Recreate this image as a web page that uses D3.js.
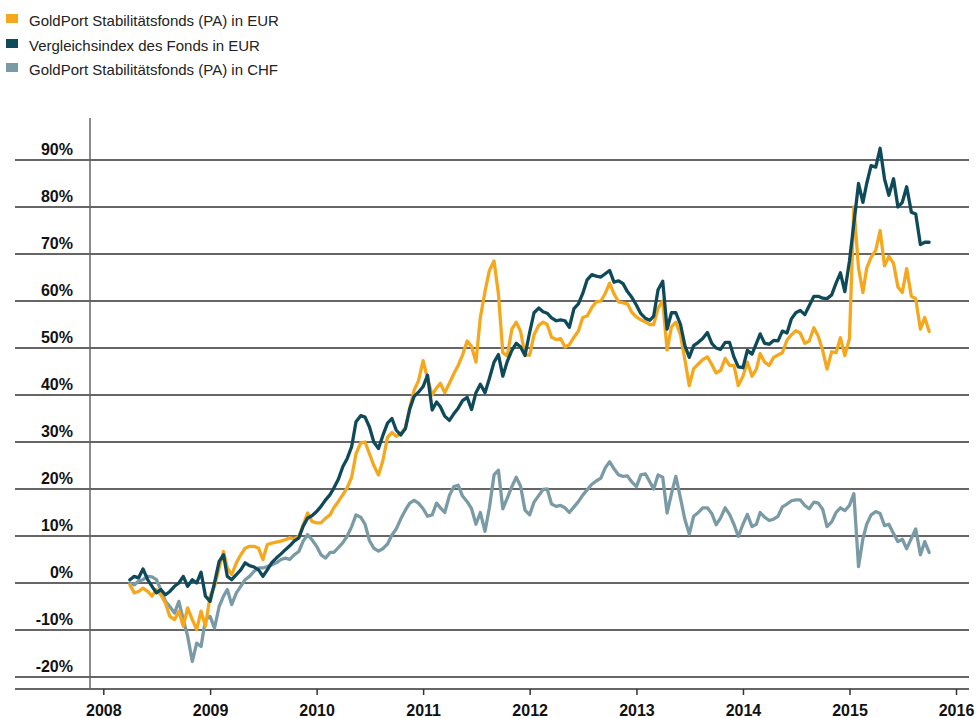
<!DOCTYPE html>
<html>
<head>
<meta charset="utf-8">
<script src="https://cdn.jsdelivr.net/npm/d3@7"></script>
<style>
  body { margin: 0; background: #fff; }
  svg { display: block; font-family: "Liberation Sans", Arial, sans-serif; }
</style>
</head>
<body>
<div id="chart"></div>
<script>
// Semi-monthly observation dates
var dates = [
  "2008-04-01","2008-04-16","2008-05-01","2008-05-16","2008-06-01","2008-06-16","2008-07-01","2008-07-16","2008-08-01","2008-08-16","2008-09-01","2008-09-16",
  "2008-10-01","2008-10-16","2008-11-01","2008-11-16","2008-12-01","2008-12-16",
  "2009-01-01","2009-01-16","2009-02-01","2009-02-16","2009-03-01","2009-03-16","2009-04-01","2009-04-16","2009-05-01","2009-05-16","2009-06-01","2009-06-16",
  "2009-07-01","2009-07-16","2009-08-01","2009-08-16","2009-09-01","2009-09-16","2009-10-01","2009-10-16","2009-11-01","2009-11-16","2009-12-01","2009-12-16",
  "2010-01-01","2010-01-16","2010-02-01","2010-02-16","2010-03-01","2010-03-16","2010-04-01","2010-04-16","2010-05-01","2010-05-16","2010-06-01","2010-06-16",
  "2010-07-01","2010-07-16","2010-08-01","2010-08-16","2010-09-01","2010-09-16","2010-10-01","2010-10-16","2010-11-01","2010-11-16","2010-12-01","2010-12-16",
  "2011-01-01","2011-01-16","2011-02-01","2011-02-16","2011-03-01","2011-03-16","2011-04-01","2011-04-16","2011-05-01","2011-05-16","2011-06-01","2011-06-16",
  "2011-07-01","2011-07-16","2011-08-01","2011-08-16","2011-09-01","2011-09-16","2011-10-01","2011-10-16","2011-11-01","2011-11-16","2011-12-01","2011-12-16",
  "2012-01-01","2012-01-16","2012-02-01","2012-02-16","2012-03-01","2012-03-16","2012-04-01","2012-04-16","2012-05-01","2012-05-16","2012-06-01","2012-06-16",
  "2012-07-01","2012-07-16","2012-08-01","2012-08-16","2012-09-01","2012-09-16","2012-10-01","2012-10-16","2012-11-01","2012-11-16","2012-12-01","2012-12-16",
  "2013-01-01","2013-01-16","2013-02-01","2013-02-16","2013-03-01","2013-03-16","2013-04-01","2013-04-16","2013-05-01","2013-05-16","2013-06-01","2013-06-16",
  "2013-07-01","2013-07-16","2013-08-01","2013-08-16","2013-09-01","2013-09-16","2013-10-01","2013-10-16","2013-11-01","2013-11-16","2013-12-01","2013-12-16",
  "2014-01-01","2014-01-16","2014-02-01","2014-02-16","2014-03-01","2014-03-16","2014-04-01","2014-04-16","2014-05-01","2014-05-16","2014-06-01","2014-06-16",
  "2014-07-01","2014-07-16","2014-08-01","2014-08-16","2014-09-01","2014-09-16","2014-10-01","2014-10-16","2014-11-01","2014-11-16","2014-12-01","2014-12-16",
  "2015-01-01","2015-01-16","2015-02-01","2015-02-16","2015-03-01","2015-03-16","2015-04-01","2015-04-16","2015-05-01","2015-05-16","2015-06-01","2015-06-16",
  "2015-07-01","2015-07-16","2015-08-01","2015-08-16","2015-09-01","2015-09-16","2015-10-01"
];

// GoldPort Stabilitätsfonds (PA) in EUR, % since start
var fondsEur = [
  -0.4,-2.1,-1.8,-1.1,-1.8,-2.8,-1.4,-2.5,-4.3,-7.1,-7.8,-6.0,
  -9.2,-5.3,-7.8,-9.9,-6.0,-9.2,-2.8,-0.7,3.2,6.7,3.2,1.8,
  4.3,6.0,7.4,7.8,7.8,7.4,5.0,8.2,8.5,8.7,8.9,9.2,
  9.6,9.4,9.9,12.4,14.9,13.1,12.8,12.8,13.8,14.5,16,17.3,
  18.8,20.3,22.5,27.5,29.8,30,27.5,25,23,26,31,32,
  31.2,31.8,33,37.2,41,43,47.3,43.5,40,41.5,42.5,40.5,
  42.5,44.5,46.3,48.5,51.5,50.3,47,56.5,62,66.5,68.5,61.5,
  49,48.3,54,55.5,53.5,48.5,48.5,52.8,54.8,55.5,55,52.3,
  51.8,52,50.2,50.7,52.3,53.6,56.5,56.8,58.6,59.8,60,61.6,
  63.8,61.5,59.8,59.6,59.4,57.6,56.6,56,55.5,55,55,58.5,
  60,49.6,54.5,55.5,52.8,47.5,42,45.6,46.6,47.5,48.1,46.5,
  44.7,45.2,47.8,46.3,46.3,42,44,47,44,45.5,48.8,47,
  46.3,48,48.5,49,51.7,52.8,53.7,53.2,51,51.5,54.3,52.5,
  49.5,45.5,49.2,49,52.2,48.4,52,80,67,61.8,67,69.3,
  70.8,75,67.5,69.5,68,63,61.8,66.9,61,60.5,54,56.5,53.5
];

// Vergleichsindex des Fonds in EUR
var indexEur = [
  0.7,1.4,1.1,3.0,0.7,-0.7,-2.1,-1.4,-2.5,-1.8,-0.7,0,
  1.4,-0.7,0.7,0,2.3,-2.8,-3.9,0,4.6,6.0,1.4,0.7,
  1.8,2.8,4.3,3.7,3.4,2.8,1.4,2.8,4.4,5.3,6.2,7.1,
  7.9,8.9,9.6,12.1,13.8,14.3,15.2,16.3,17.7,18.8,20.2,22,
  24.8,26.5,29,34.3,35.6,35.3,33.2,30,28.6,31.4,34,35,
  32.5,31.5,32.8,37,39.7,40.6,41.8,44.2,36.8,38.5,37.5,35.5,
  34.6,36,37.2,38.8,39.5,36.9,40.5,42.3,40.5,43.5,47,48.6,
  44,47.1,49.5,51,50.2,48.4,53.3,57.5,58.5,57.7,57.4,56.4,
  55.8,56,55.8,54.4,58.4,59.4,61.6,64.5,65.6,65.3,65.1,65.8,
  66.5,64,64.3,63.7,62,60.8,59.1,57.3,56.3,55.9,56.8,62.4,
  64.2,54,57.5,57.5,55,50.5,48,50.5,51.2,52,53.3,51,
  50,49.7,51.2,51.2,48.1,46,45.8,49.5,48.7,51,53,51,
  50.8,51.6,51.5,53.6,53.2,56.2,57.5,58,57.1,59,61,61,
  60.6,60.5,61.3,63.8,66,62,68.5,76.5,85,81,85,88.8,
  88.5,92.5,86,82.5,86,80,81,84.3,78.9,78.5,72,72.5,72.5
];

// GoldPort Stabilitätsfonds (PA) in CHF
var fondsChf = [
  0,-0.4,0.4,0.7,1.4,1.3,0.7,-1.4,-3.9,-5.0,-6.4,-3.9,
  -7.8,-11.3,-16.7,-12.8,-13.5,-7.8,-7.1,-9.6,-5.0,-2.8,-1.4,-4.6,
  -2.1,-0.7,0.7,1.4,2.5,3.2,3.2,3.5,3.9,4.3,5.0,5.3,
  5.0,6.0,6.7,8.9,10.3,9.2,7.8,6.0,5.3,6.5,6.5,7.5,
  8.6,10,12,14.5,14,12.5,9,7.4,6.8,7.3,8.3,10.2,
  11.5,13.6,15.5,17,17.6,17,15.8,14.2,14.5,17,16,15,
  18.6,20.5,20.8,18.5,17.3,15.8,12.5,15,11,16,23,24,
  15.8,18,20.5,22.5,20.6,15.5,14.5,17.2,18.6,19.9,20,16.8,
  16.3,16.5,16,15,16.2,17.3,18.7,19.8,21,21.7,22.3,24.5,
  25.8,24.3,23,22.7,22.8,21.5,20.5,23,23.2,21.5,20,23,
  22.5,14.9,19,22.7,18,13.5,10.4,14.2,15,16,16,14.8,
  12.4,13.8,16,14.6,12.5,9.9,12.5,14.6,12,12.5,15,14,
  13.3,13.6,14.2,16.2,16.8,17.5,17.7,17.7,16.5,15.8,17.2,17,
  15.7,12,13,15,16,15.4,16.5,19,3.5,9.4,12.5,14.5,
  15.2,14.8,12.2,12.5,10.5,8.8,9.3,7.3,9.5,11.5,6,8.8,6.5
];

var seriesNames = ["GoldPort Stabilitätsfonds (PA) in EUR", "Vergleichsindex des Fonds in EUR", "GoldPort Stabilitätsfonds (PA) in CHF"];
var seriesColors = ["#f5a81d", "#0f4a5b", "#7a9ba6"];
var yTicks = [-20, -10, 0, 10, 20, 30, 40, 50, 60, 70, 80, 90];
var xTicks = [2008, 2009, 2010, 2011, 2012, 2013, 2014, 2015, 2016];

var width = 976, height = 718;
var gridLeft = 15, gridRight = 969, axisY = 689;

var parse = d3.timeParse("%Y-%m-%d");
var x = d3.scaleTime()
  .domain([new Date(2008, 0, 1), new Date(2016, 0, 1)])
  .range([103.3, 956]);
var y = d3.scaleLinear().domain([-20, 90]).range([677, 160]);

var svg = d3.select("#chart").append("svg").attr("width", width).attr("height", height);

// Horizontal grid lines
svg.append("g").selectAll("line").data(yTicks).enter().append("line")
  .attr("x1", gridLeft).attr("x2", gridRight)
  .attr("y1", function(d){ return y(d); }).attr("y2", function(d){ return y(d); })
  .attr("stroke", "#333").attr("stroke-width", 1.5);

// Baseline of the time axis
svg.append("line")
  .attr("x1", gridLeft).attr("x2", gridRight).attr("y1", axisY).attr("y2", axisY)
  .attr("stroke", "#333").attr("stroke-width", 1.5);

// Vertical axis line
svg.append("line")
  .attr("x1", 90).attr("x2", 90).attr("y1", 118).attr("y2", axisY)
  .attr("stroke", "#666").attr("stroke-width", 1.5);

// Y labels sit just above their grid line
svg.append("g").selectAll("text").data(yTicks).enter().append("text")
  .attr("x", 73).attr("y", function(d){ return y(d) - 5; })
  .attr("text-anchor", "end")
  .attr("font-size", 16).attr("font-weight", "bold").attr("fill", "#111")
  .text(function(d){ return d + "%"; });

// Time axis
var xAxis = d3.axisBottom(x)
  .tickValues(xTicks.map(function(yr){ return new Date(yr, 0, 1); }))
  .tickFormat(d3.timeFormat("%Y"))
  .tickSize(6).tickPadding(10);
var gx = svg.append("g").attr("transform", "translate(0," + axisY + ")").call(xAxis);
gx.select(".domain").remove();
gx.selectAll(".tick line").attr("stroke", "#333").attr("stroke-width", 1.5);
gx.selectAll(".tick text").attr("font-size", 16).attr("font-weight", "bold")
  .attr("fill", "#111").attr("font-family", "Liberation Sans, Arial, sans-serif");

// Lines (CHF underneath, index on top)
var line = d3.line()
  .x(function(d){ return x(d.date); })
  .y(function(d){ return y(d.v); });

function toPoints(vals){
  return vals.map(function(v, i){ return {date: parse(dates[i]), v: v}; });
}
var drawOrder = [[fondsChf, 2], [fondsEur, 0], [indexEur, 1]];
drawOrder.forEach(function(s){
  svg.append("path").datum(toPoints(s[0]))
    .attr("fill", "none")
    .attr("stroke", seriesColors[s[1]])
    .attr("stroke-width", 3.3)
    .attr("stroke-linejoin", "round")
    .attr("stroke-linecap", "round")
    .attr("d", line);
});

// Legend
var legendRows = [14, 39, 63];
var lg = svg.append("g").selectAll("g").data(seriesNames).enter().append("g")
  .attr("transform", function(d, i){ return "translate(6," + legendRows[i] + ")"; });
lg.append("rect").attr("width", 12).attr("height", 9)
  .attr("fill", function(d, i){ return seriesColors[i]; });
lg.append("text").attr("x", 23).attr("y", 12)
  .attr("font-size", 15).attr("fill", "#222")
  .text(function(d){ return d; });
</script>
</body>
</html>
